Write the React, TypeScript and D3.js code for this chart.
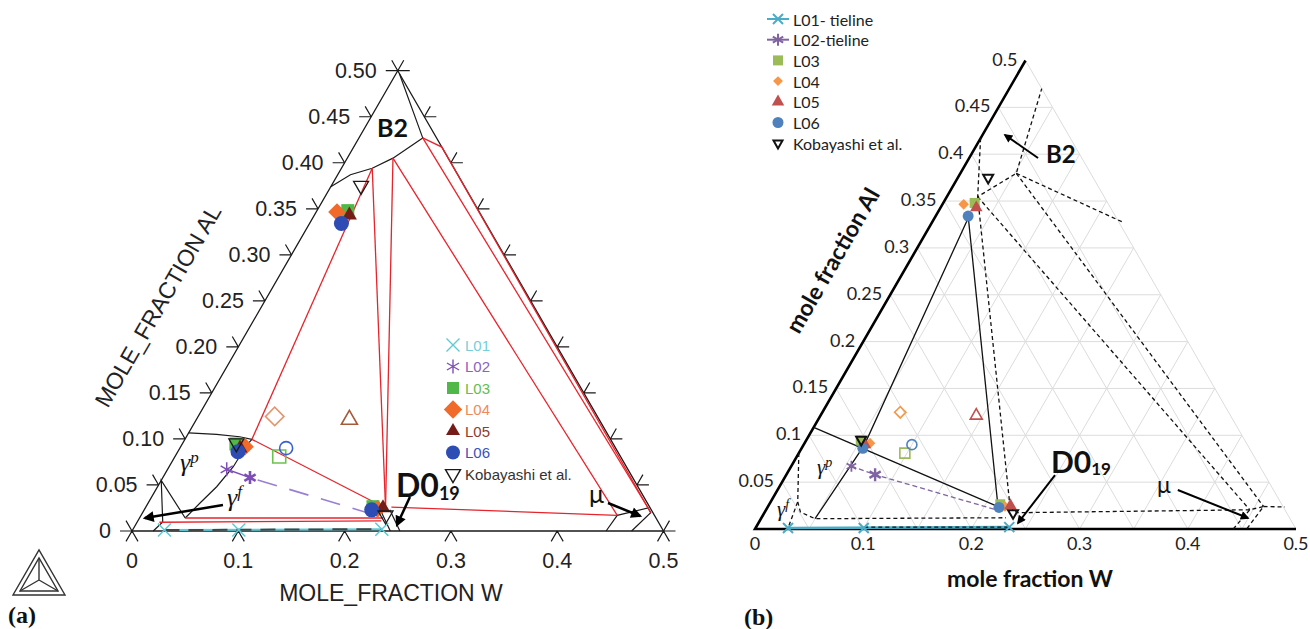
import React from "react";
import * as d3 from "d3";

type Pt = [number, number]; // [mole fraction W, mole fraction Al]

// ---------- experimental data (shared by both panels) ----------
const legendA = ["L01", "L02", "L03", "L04", "L05", "L06", "Kobayashi et al."];
const legendB = ["L01- tieline", "L02-tieline", "L03", "L04", "L05", "L06", "Kobayashi et al."];
const phaseSeries = ["L03", "L04", "L05", "L06"];

const l01Tieline: Pt[] = [[0.03, 0.001], [0.1, 0.001], [0.234, 0.002]];
const l02Tieline: Pt[] = [[0.0556, 0.067], [0.082, 0.058]];
const l02EndA: Pt = [0.221, 0.017];
const l02EndB: Pt = [0.2133, 0.0203];

// measured phase compositions, order L03, L04, L05, L06
const gammaPrimePts: Pt[] = [[0.0505, 0.0945], [0.0605, 0.0916], [0.0566, 0.09], [0.0566, 0.0861]];
const b2Pts: Pt[] = [[0.029, 0.348], [0.0196, 0.3465], [0.033, 0.343], [0.03, 0.334]];
const d019Pts: Pt[] = [[0.2135, 0.0264], [0.219, 0.024], [0.2236, 0.025], [0.214, 0.023]];
// nominal alloy compositions, order L03, L04, L05, L06
const alloyPts: Pt[] = [[0.098, 0.081], [0.072, 0.1245], [0.144, 0.121], [0.1, 0.09]];
const kobayashiPts: Pt[] = [[0.0505, 0.0953], [0.028, 0.375], [0.23, 0.017]];

// ---------- panel (a): Thermo-Calc section ----------
const redTielinesA: Pt[][] = [
  [[0.063, 0.0996], [0.029, 0.394]],
  [[0.063, 0.0996], [0.226, 0.025]],
  [[0.029, 0.394], [0.226, 0.025]],
  [[0.043, 0.405], [0.226, 0.025]],
  [[0.043, 0.405], [0.448, 0.017]],
  [[0.231, 0.026], [0.448, 0.017]],
  [[0.06, 0.427], [0.473, 0.025]],
  [[0.06, 0.427], [0.083, 0.417], [0.478, 0.02]],
  [[0.043, 0.0141], [0.229, 0.0141]],
  [[0.021, 0.0095], [0.229, 0.011]],
];
const boundariesA: Pt[][] = [
  [[0, 0.374], [0.012, 0.387], [0.029, 0.394], [0.043, 0.405], [0.06, 0.427], [0.003, 0.497]],
  [[0, 0.1065], [0.027, 0.105], [0.05, 0.1024], [0.063, 0.0996], [0.0612, 0.0934], [0.0604, 0.0698],
    [0.0556, 0.0481], [0.0488, 0.0304], [0.043, 0.0141]],
  [[0.043, 0.0141], [0, 0.055], [0.024, 0.0098], [0.02, 0]],
  [[0.222, 0.023], [0.243, 0]],
  [[0.231, 0.023], [0.252, 0]],
  [[0.446, 0], [0.448, 0.017], [0.473, 0.025], [0.478, 0.02], [0.47, 0]],
];
const arrowsA: Pt[][] = [
  [[0.0715, 0.0282], [0.0051, 0.0141]],
  [[0.243, 0.0369], [0.246, 0.0065]],
  [[0.4326, 0.0304], [0.4698, 0.0163]],
];

// ---------- panel (b): second assessment ----------
const solidTielinesB: Pt[][] = [
  [[0, 0.1085], [0.2127, 0.0238]],
  [[0.031, 0.333], [0.0563, 0.0895], [0.05, 0.011]],
  [[0.03, 0.334], [0.2127, 0.0238]],
];
const dashedB: Pt[][] = [
  [[0, 0.417], [0.0285, 0.3546], [0.0517, 0.3796], [0.03, 0.47]],
  [[0.0517, 0.3796], [0.175, 0.328]],
  [[0.0517, 0.3796], [0.458, 0.024]],
  [[0.0285, 0.3546], [0.447, 0.0205]],
  [[0.0285, 0.3546], [0.2238, 0.0238]],
  [[0.2238, 0.0238], [0.2332, 0.0174], [0.447, 0.0205]],
  [[0.442, 0], [0.447, 0.0205], [0.458, 0.024], [0.4544, 0]],
  [[0.458, 0.024], [0.478, 0.0235]],
  [[0, 0.081], [0.025, 0.029], [0.03, 0.001]],
  [[0.025, 0.029], [0.033, 0.018], [0.05, 0.011], [0.226, 0.012]],
  [[0.1, 0.002], [0.234, 0.002]],
];
const arrowsB: Pt[][] = [
  [[0.0636, 0.396], [0.0208, 0.4205]],
  [[0.2485, 0.0576], [0.2399, 0.0064]],
  [[0.37, 0.0416], [0.4497, 0.0117]],
];

// ---------- ticks ----------
const alTicks = [0, 0.05, 0.1, 0.15, 0.2, 0.25, 0.3, 0.35, 0.4, 0.45, 0.5];
const alLabelsA = ["0", "0.05", "0.10", "0.15", "0.20", "0.25", "0.30", "0.35", "0.40", "0.45", "0.50"];
const alLabelsB = ["", "0.05", "0.1", "0.15", "0.2", "0.25", "0.3", "0.35", "0.4", "0.45", "0.5"];
const wTicks = [0, 0.1, 0.2, 0.3, 0.4, 0.5];
const wLabels = ["0", "0.1", "0.2", "0.3", "0.4", "0.5"];

// ternary projection: x from W + Al/2, y from Al
function makeProj(x0: number, x1: number, y0: number, y1: number) {
  const x = d3.scaleLinear().domain([0, 0.5]).range([x0, x1]);
  const y = d3.scaleLinear().domain([0, 0.5]).range([y0, y1]);
  const p = (d: Pt): [number, number] => [x(d[0] + d[1] / 2), y(d[1])];
  const line = d3.line<Pt>().x((d) => p(d)[0]).y((d) => p(d)[1]);
  return { p, line };
}
const A = makeProj(132, 663.5, 531, 70.7);
const B = makeProj(755, 1296, 529, 60.5);

const styleA: Record<string, { shape: string; color: string; text: string; size: number; open: string }> = {
  L01: { shape: "x", color: "#5ccad8", text: "#74cfdb", size: 13, open: "" },
  L02: { shape: "asterisk", color: "#7d4fb6", text: "#8a62c0", size: 14, open: "" },
  L03: { shape: "square", color: "#4fb848", text: "#62bd52", size: 13, open: "#6cc24f" },
  L04: { shape: "diamond", color: "#f26a2a", text: "#ef8a5c", size: 12.5, open: "#e4956d" },
  L05: { shape: "triangle", color: "#761c16", text: "#8e3b30", size: 15, open: "#a55a3c" },
  L06: { shape: "circle", color: "#2d4db4", text: "#3853b9", size: 15, open: "#3a5fd0" },
  Kob: { shape: "tridown", color: "#1a1a1a", text: "#333", size: 15, open: "" },
};
const styleB: Record<string, { shape: string; color: string; size: number }> = {
  L01: { shape: "x", color: "#4bacc6", size: 10 },
  L02: { shape: "asterisk", color: "#8064a2", size: 12 },
  L03: { shape: "square", color: "#9bbb59", size: 10 },
  L04: { shape: "diamond", color: "#f79646", size: 7.5 },
  L05: { shape: "triangle", color: "#c0504d", size: 12.5 },
  L06: { shape: "circle", color: "#4f81bd", size: 11 },
  Kob: { shape: "tridown", color: "#111", size: 10 },
};
const legendKeys = ["L01", "L02", "L03", "L04", "L05", "L06", "Kob"];

function glyph(shape: string, s: number): string {
  const h = s / 2;
  if (shape === "square" || shape === "diamond") return d3.symbol(d3.symbolSquare, s * s)() as string;
  if (shape === "triangle" || shape === "tridown")
    return d3.symbol(d3.symbolTriangle, (Math.sqrt(3) / 4) * s * s)() as string;
  if (shape === "circle") return d3.symbol(d3.symbolCircle, Math.PI * h * h)() as string;
  if (shape === "x") return `M${-h},${-h}L${h},${h}M${-h},${h}L${h},${-h}`;
  const c = h * 0.866;
  const k = h / 2;
  return `M0,${-h}V${h}M${-c},${-k}L${c},${k}M${-c},${k}L${c},${-k}`;
}

function Mark(props: { shape: string; at: [number, number]; size: number; color: string; open?: boolean; sw?: number }) {
  const { shape, at, size, color, open, sw = 1.5 } = props;
  const rot = shape === "diamond" ? 45 : shape === "tridown" ? 180 : 0;
  const stroked = open || shape === "x" || shape === "asterisk" || shape === "tridown";
  return (
    <path
      d={glyph(shape, size)}
      transform={`translate(${at[0]},${at[1]}) rotate(${rot})`}
      fill={stroked ? "none" : color}
      stroke={stroked ? color : "none"}
      strokeWidth={sw}
    />
  );
}

function PanelA() {
  const { p, line } = A;
  const T = 12;
  let ticks = "";
  alTicks.forEach((a) => {
    const [x, y] = p([0, a]);
    ticks += `M${x},${y}h${-T}M${x},${y}l${-T / 2},${-T * 0.866}`;
    const [rx, ry] = p([0.5 - a, a]);
    ticks += `M${rx},${ry}h${T}M${rx},${ry}l${T / 2},${-T * 0.866}`;
  });
  wTicks.forEach((w) => {
    const [x, y] = p([w, 0]);
    ticks += `M${x},${y}l${-T / 2},${T * 0.866}M${x},${y}l${T / 2},${T * 0.866}`;
  });
  const phaseSets = [gammaPrimePts, b2Pts, d019Pts];
  return (
    <g fontFamily="'Liberation Sans', Arial, sans-serif">
      <path d={line([[0, 0], [0.5, 0], [0, 0.5]]) + "Z"} fill="none" stroke="#1a1a1a" strokeWidth={1.3} />
      <path d={ticks} fill="none" stroke="#1a1a1a" strokeWidth={1.2} />
      {alTicks.map((a, i) => {
        const [x, y] = p([0, a]);
        return (
          <text key={"al" + i} x={x - 21} y={y} textAnchor="end" dominantBaseline="central" fontSize={21.5} fill="#222">
            {alLabelsA[i]}
          </text>
        );
      })}
      {wTicks.map((w, i) => {
        const [x, y] = p([w, 0]);
        return (
          <text key={"w" + i} x={x} y={y + 37} textAnchor="middle" fontSize={21.5} fill="#222">
            {wLabels[i]}
          </text>
        );
      })}
      <text x={391} y={601} textAnchor="middle" fontSize={23} fill="#222">MOLE_FRACTION W</text>
      <text transform="translate(158,306) rotate(-60)" textAnchor="middle" dominantBaseline="central" fontSize={23} fill="#222">
        MOLE_FRACTION AL
      </text>

      {boundariesA.map((d, i) => (
        <path key={"b" + i} d={line(d) as string} fill="none" stroke="#1a1a1a" strokeWidth={1.2} />
      ))}
      {redTielinesA.map((d, i) => (
        <path key={"r" + i} d={line(d) as string} fill="none" stroke="#e5242b" strokeWidth={1.3} />
      ))}

      {/* L01 tie-line on the W axis */}
      <path d={line([l01Tieline[0], l01Tieline[2]]) as string} stroke={styleA.L01.color} strokeWidth={2} fill="none" />
      <path d={line([l01Tieline[0], l01Tieline[2]]) as string} stroke="#444" strokeWidth={2} strokeDasharray="15 9" fill="none" />
      {/* L02 tie-line */}
      <path d={line(l02Tieline) as string} stroke={styleA.L02.color} strokeWidth={1.5} fill="none" />
      <path d={line([l02Tieline[1], l02EndA]) as string} stroke="#9a7fd0" strokeWidth={1.6} strokeDasharray="20 13" strokeDashoffset={-8} fill="none" />

      {l01Tieline.map((d, i) => (
        <Mark key={"l01" + i} shape="x" at={p(d)} size={13} color={styleA.L01.color} sw={1.5} />
      ))}
      {l02Tieline.map((d, i) => (
        <Mark key={"l02" + i} shape="asterisk" at={p(d)} size={i ? 13 : 14} color={styleA.L02.color} sw={i ? 2.6 : 1.5} />
      ))}
      {alloyPts.map((d, i) => {
        const s = styleA[phaseSeries[i]];
        const sz = s.shape === "diamond" ? 13 : s.shape === "triangle" ? 16 : 13;
        return <Mark key={"al" + i} shape={s.shape} at={p(d)} size={sz} color={s.open} open sw={1.6} />;
      })}
      {phaseSets.map((set, j) =>
        set.map((d, i) => {
          const s = styleA[phaseSeries[i]];
          return <Mark key={`ph${j}-${i}`} shape={s.shape} at={p(d)} size={s.size} color={s.color} />;
        })
      )}
      {kobayashiPts.map((d, i) => (
        <Mark key={"k" + i} shape="tridown" at={p(d)} size={15} color="#1a1a1a" sw={1.3} />
      ))}

      {arrowsA.map((d, i) => (
        <path key={"ar" + i} d={line(d) as string} stroke="#000" strokeWidth={2.5} fill="none" markerEnd="url(#headA)" />
      ))}
      <text x={377} y={137} fontFamily="Lato, sans-serif" fontWeight={700} fontSize={25} fill="#111">B2</text>
      <text x={396} y={497} fontFamily="Lato, sans-serif" fontWeight={700} fontSize={32} fill="#111">
        D0<tspan fontSize={18} dy={3}>19</tspan>
      </text>
      <text x={589} y={503} fontFamily="Lato, sans-serif" fontSize={25} fill="#111">μ</text>
      <text x={180} y={471} fontFamily="'Liberation Serif', serif" fontStyle="italic" fontSize={26} fill="#111">
        γ<tspan fontSize={17} dy={-8}>p</tspan>
      </text>
      <text x={227} y={506} fontFamily="'Liberation Serif', serif" fontStyle="italic" fontSize={26} fill="#111">
        γ<tspan fontSize={17} dy={-9}>f</tspan>
      </text>

      {/* legend */}
      {legendKeys.map((k, i) => {
        const s = styleA[k];
        const y = 345 + i * 21.5;
        const stroked = s.shape === "x" || s.shape === "asterisk" || s.shape === "tridown";
        return (
          <g key={"lg" + k}>
            <Mark shape={s.shape} at={[453, y]} size={s.shape === "diamond" ? 13 : s.size - (stroked ? 0 : 1)} color={s.color} sw={1.4} />
            <text x={465} y={y} dominantBaseline="central" fontSize={15} fill={s.text}>{legendA[i]}</text>
          </g>
        );
      })}

      {/* Thermo-Calc triangle logo */}
      <g fill="none" stroke="#333" strokeWidth={1.4}>
        <path d="M13,595L65,595L39,550Z" />
        <path d="M20,591L58,591L39,558Z" />
        <path d="M39,580L20,591M39,580L58,591M39,580L39,558" />
      </g>
      <text x={8} y={623} fontFamily="'Liberation Serif', serif" fontWeight={700} fontSize={24} fill="#111">(a)</text>
    </g>
  );
}

function PanelB() {
  const { p, line } = B;
  const inner = alTicks.slice(1);
  const grid: Pt[][] = [];
  inner.forEach((k) => {
    if (k < 0.5) grid.push([[0, k], [0.5 - k, k]]);
    if (k < 0.5) grid.push([[k, 0], [k, 0.5 - k]]);
    grid.push([[k, 0], [0, k]]);
  });
  const phaseSets = [gammaPrimePts, b2Pts, d019Pts];
  return (
    <g fontFamily="Lato, 'Open Sans', sans-serif">
      {grid.map((d, i) => (
        <path key={"g" + i} d={line(d) as string} stroke="#dcdcdc" strokeWidth={1} fill="none" />
      ))}
      <path d={line([[0, 0.5], [0, 0], [0.5, 0]]) as string} stroke="#000" strokeWidth={2.6} fill="none" />
      {alTicks.map((a, i) => {
        const [x, y] = p([0, a]);
        return (
          <text key={"al" + i} x={x - 8} y={y - 2} textAnchor="end" dominantBaseline="central" fontSize={18} fill="#222">
            {alLabelsB[i]}
          </text>
        );
      })}
      {wTicks.map((w, i) => {
        const [x, y] = p([w, 0]);
        return (
          <text key={"w" + i} x={x} y={y + 21} textAnchor="middle" fontSize={18} fill="#222">
            {wLabels[i]}
          </text>
        );
      })}
      <text x={1030} y={587} textAnchor="middle" fontWeight={700} fontSize={23} fill="#111">mole fraction W</text>
      <text transform="translate(832,260) rotate(-60)" textAnchor="middle" dominantBaseline="central" fontWeight={700} fontSize={23} fill="#111">
        mole fraction Al
      </text>

      {solidTielinesB.map((d, i) => (
        <path key={"s" + i} d={line(d) as string} stroke="#111" strokeWidth={1.3} fill="none" />
      ))}
      <path d={line([l01Tieline[0], l01Tieline[2]]) as string} stroke={styleB.L01.color} strokeWidth={2.6} fill="none" />
      {dashedB.map((d, i) => (
        <path key={"d" + i} d={line(d) as string} stroke="#111" strokeWidth={1.3} strokeDasharray="4 3" fill="none" />
      ))}
      <path d={line([...l02Tieline, l02EndB]) as string} stroke={styleB.L02.color} strokeWidth={1.3} strokeDasharray="5 3" fill="none" />

      {l01Tieline.map((d, i) => (
        <Mark key={"l01" + i} shape="x" at={p(d)} size={10} color={styleB.L01.color} sw={2} />
      ))}
      {l02Tieline.map((d, i) => (
        <Mark key={"l02" + i} shape="asterisk" at={p(d)} size={i ? 13 : 11} color={styleB.L02.color} sw={i ? 2.4 : 1.8} />
      ))}
      {alloyPts.map((d, i) => {
        const s = styleB[phaseSeries[i]];
        const sz = s.shape === "diamond" ? 8 : s.shape === "circle" ? 10 : s.shape === "triangle" ? 12 : 10;
        return <Mark key={"al" + i} shape={s.shape} at={p(d)} size={sz} color={s.color} open sw={1.6} />;
      })}
      {phaseSets.map((set, j) =>
        set.map((d, i) => {
          const s = styleB[phaseSeries[i]];
          return <Mark key={`ph${j}-${i}`} shape={s.shape} at={p(d)} size={s.size} color={s.color} />;
        })
      )}
      {kobayashiPts.map((d, i) => (
        <Mark key={"k" + i} shape="tridown" at={p(d)} size={10} color="#111" sw={2} />
      ))}

      {arrowsB.map((d, i) => (
        <path key={"ar" + i} d={line(d) as string} stroke="#000" strokeWidth={2} fill="none" markerEnd="url(#headB)" />
      ))}
      <text x={1046} y={163} fontWeight={700} fontSize={24} fill="#111">B2</text>
      <text x={1051} y={473} fontWeight={700} fontSize={30} fill="#111">
        D0<tspan fontSize={17} dy={2}>19</tspan>
      </text>
      <text x={1157} y={493} fontSize={23} fill="#111">μ</text>
      <text x={817} y={474} fontFamily="'Liberation Serif', serif" fontStyle="italic" fontSize={21} fill="#111">
        γ<tspan fontSize={14} dy={-7}>p</tspan>
      </text>
      <text x={777} y={516} fontFamily="'Liberation Serif', serif" fontStyle="italic" fontSize={21} fill="#111">
        γ<tspan fontSize={14} dy={-7}>f</tspan>
      </text>

      {legendKeys.map((k, i) => {
        const s = styleB[k];
        const y = 19 + i * 20.7;
        return (
          <g key={"lg" + k}>
            {i < 2 && <path d={`M${767},${y}H${789}`} stroke={s.color} strokeWidth={2} />}
            <Mark shape={s.shape} at={[778, y]} size={k === "Kob" ? 9 : k === "L04" ? 7 : s.size} color={s.color} sw={2} />
            <text x={793} y={y} dominantBaseline="central" fontSize={16} fill="#222">{legendB[i]}</text>
          </g>
        );
      })}
      <text x={744} y={625} fontFamily="'Liberation Serif', serif" fontWeight={700} fontSize={24} fill="#111">(b)</text>
    </g>
  );
}

export default function App() {
  return (
    <svg width={1310} height={629} style={{ position: "absolute", left: 0, top: 0, background: "#fff" }}>
      <defs>
        <marker id="headA" viewBox="0 0 10 10" refX="8" refY="5" markerWidth="5" markerHeight="4.4" orient="auto" markerUnits="strokeWidth">
          <path d="M0,0L10,5L0,10Z" fill="#000" />
        </marker>
        <marker id="headB" viewBox="0 0 10 10" refX="8" refY="5" markerWidth="6" markerHeight="4.4" orient="auto" markerUnits="strokeWidth">
          <path d="M0,0L10,5L0,10Z" fill="#000" />
        </marker>
      </defs>
      <rect width={1310} height={629} fill="#fff" />
      <PanelA />
      <PanelB />
    </svg>
  );
}
